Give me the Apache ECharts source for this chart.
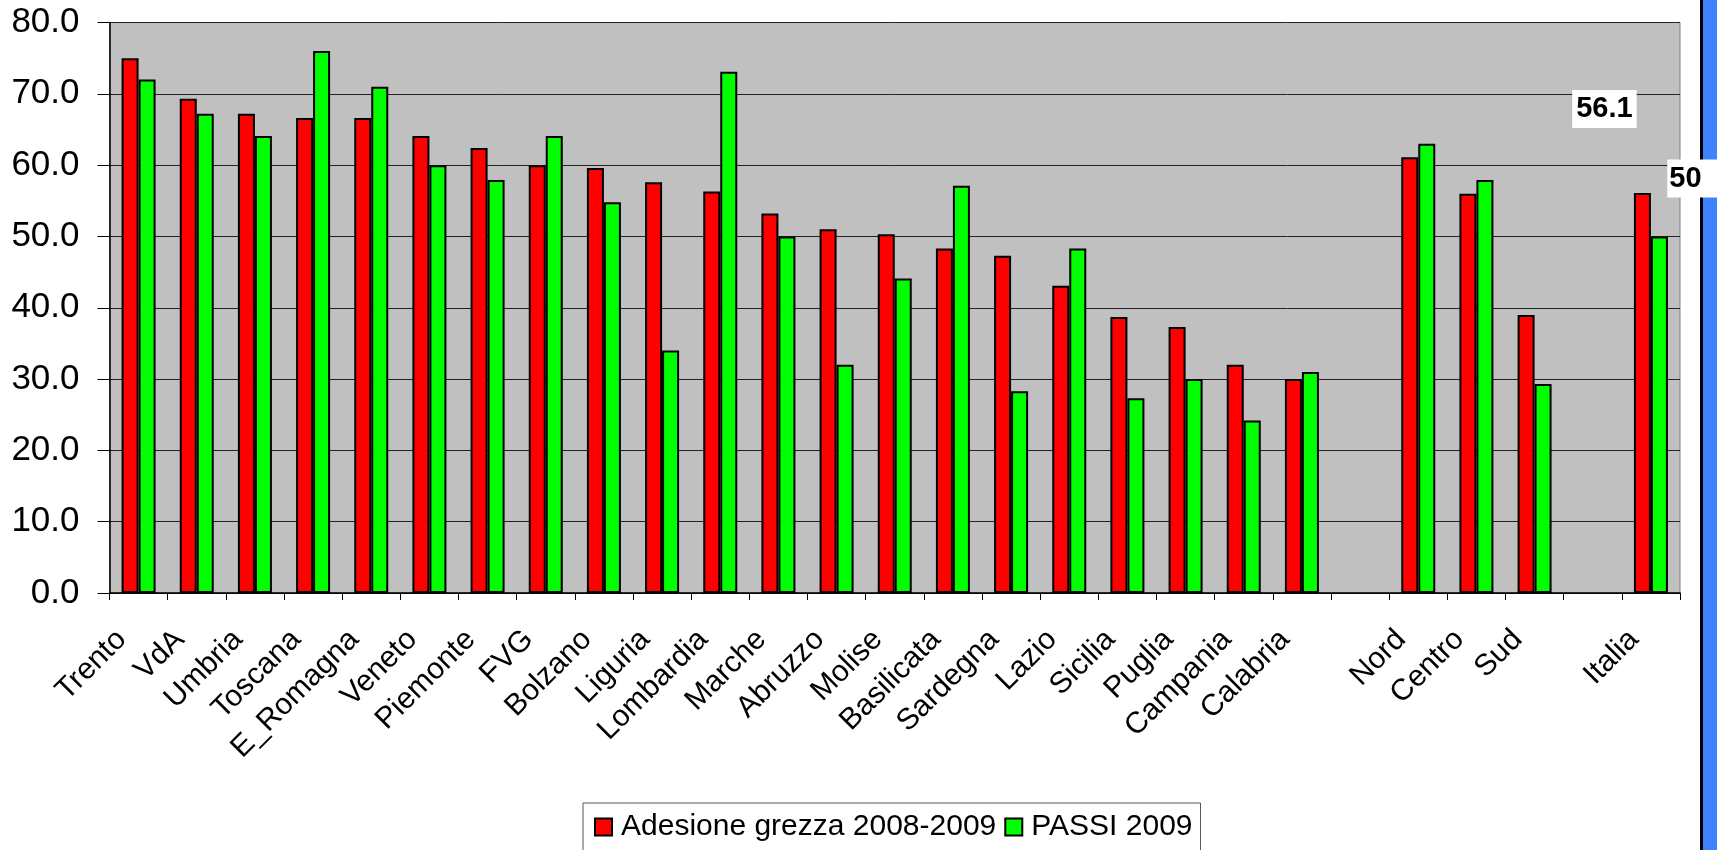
<!DOCTYPE html>
<html>
<head>
<meta charset="utf-8">
<script src="https://cdn.jsdelivr.net/npm/echarts@6/dist/echarts.min.js"></script>
<style>
html,body{margin:0;padding:0;background:#fff;}
#chart{width:1717px;height:850px;}
</style>
</head>
<body>
<div id="chart"></div>
<script>
var categories = ['Trento','VdA','Umbria','Toscana','E_Romagna','Veneto','Piemonte','FVG','Bolzano','Liguria','Lombardia','Marche','Abruzzo','Molise','Basilicata','Sardegna','Lazio','Sicilia','Puglia','Campania','Calabria','','Nord','Centro','Sud','','Italia'];
var adesione = [75.0,69.3,67.2,66.6,66.6,64.1,62.4,60.0,59.6,57.6,56.3,53.2,51.0,50.3,48.3,47.3,43.1,38.7,37.3,32.0,30.0,null,61.1,56.0,39.0,null,56.1];
var passi = [72.0,67.2,64.1,76.0,71.0,60.0,57.9,64.1,54.8,34.0,73.1,50.0,32.0,44.1,57.1,28.3,48.3,27.3,30.0,24.2,31.0,null,63.0,57.9,29.3,null,50];
var seriesNames = ['Adesione grezza 2008-2009','PASSI 2009'];
var yTicks = {min:0, max:80, interval:10};

var FONT = 'Arial, "Liberation Sans", sans-serif';
var italiaIdx = categories.indexOf('Italia');

function withLabel(arr, labelOpt){
  return arr.map(function(v,i){
    if(i===italiaIdx){ return {value:v, label:labelOpt}; }
    return v;
  });
}
var labelBase = {show:true, position:'top', formatter:'{c}', color:'#000', fontFamily:FONT, fontWeight:'bold', fontSize:29, backgroundColor:'#fff'};

var chart = echarts.init(document.getElementById('chart'));
chart.setOption({
  animation:false,
  backgroundColor:'#fff',
  grid:{left:109.5, right:37, top:22.5, bottom:257, show:true, backgroundColor:'#c0c0c0', borderColor:'#808080', borderWidth:1},
  legend:{
    left:583, top:803, orient:'horizontal',
    backgroundColor:'#fff', borderColor:'#555', borderWidth:1,
    padding:[9,8,9,11], itemGap:8, itemWidth:17, itemHeight:17,
    icon:'rect',
    itemStyle:{borderColor:'#000', borderWidth:2},
    textStyle:{fontFamily:FONT, fontSize:30, color:'#000', padding:[0,0,0,4]},
    data:seriesNames
  },
  xAxis:{
    type:'category', data:categories,
    axisLine:{lineStyle:{color:'#000', width:1.5}},
    axisTick:{show:true, length:7, interval:0, lineStyle:{color:'#000'}},
    axisLabel:{interval:0, rotate:45, margin:25, padding:[0,24,0,0], fontFamily:FONT, fontSize:30, color:'#000'}
  },
  yAxis:{
    type:'value', min:yTicks.min, max:yTicks.max, interval:yTicks.interval,
    axisLine:{show:true, lineStyle:{color:'#000', width:1.5}},
    axisTick:{show:true, length:12, inside:false, lineStyle:{color:'#000'}},
    axisLabel:{margin:30, fontFamily:FONT, fontSize:35, color:'#000', formatter:function(v){return v.toFixed(1);}},
    splitLine:{show:true, lineStyle:{color:'#222', width:1}}
  },
  series:[
    {name:seriesNames[0], type:'bar', barWidth:17, barGap:'0%', z:3,
     itemStyle:{color:'#ff0000', borderColor:'#000', borderWidth:2},
     data:withLabel(adesione, Object.assign({}, labelBase, {padding:[5,4,4,4], offset:[-38,-60]}))},
    {name:seriesNames[1], type:'bar', barWidth:17, barGap:'0%', z:3,
     itemStyle:{color:'#00ff00', borderColor:'#000', borderWidth:2},
     data:withLabel(passi, Object.assign({}, labelBase, {padding:[5,28,4,2], offset:[39,-34]}))}
  ],
  graphic:[
    {type:'rect', z:1, shape:{x:1700, y:0, width:3, height:850}, style:{fill:'#000'}},
    {type:'rect', z:1, shape:{x:1703, y:0, width:14, height:850}, style:{fill:'#3f82ff'}}
  ]
});
</script>
</body>
</html>
